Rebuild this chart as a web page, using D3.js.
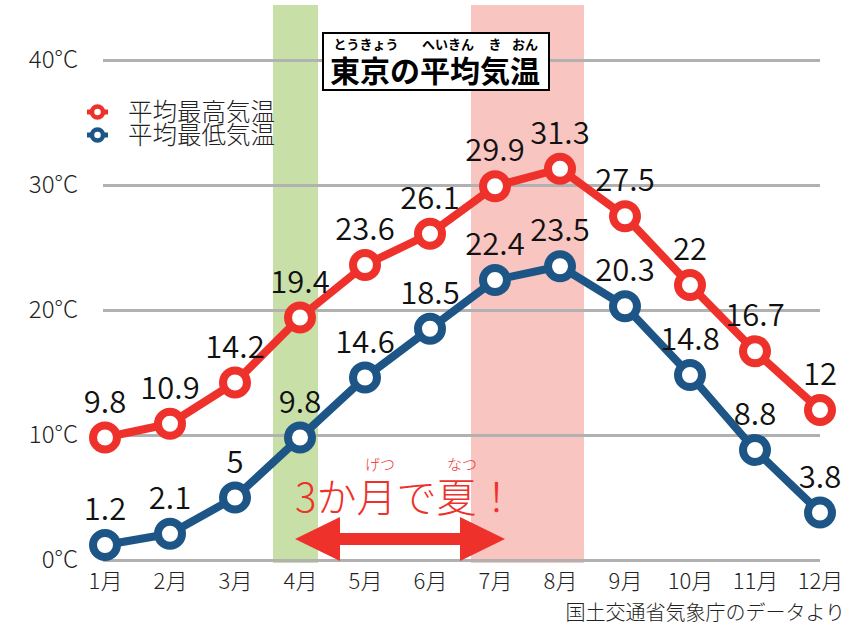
<!DOCTYPE html>
<html>
<head>
<meta charset="utf-8">
<style>
body { margin: 0; background: #fff; }
text { font-family: "Noto Sans CJK JP", "Noto Sans", sans-serif; font-weight: 300; }
.axis path { display: none; }
.yaxis line { stroke: #b1b1b1; stroke-width: 3px; }
.axis text { fill: #222; }
.title, .ruby { font-weight: bold; }
.val { font-weight: 350; }
</style>
</head>
<body>
<script src="https://cdn.jsdelivr.net/npm/d3@7"></script>
<script>
var months = ["1月","2月","3月","4月","5月","6月","7月","8月","9月","10月","11月","12月"];
var highTemp = [9.8, 10.9, 14.2, 19.4, 23.6, 26.1, 29.9, 31.3, 27.5, 22, 16.7, 12];
var lowTemp = [1.2, 2.1, 5, 9.8, 14.6, 18.5, 22.4, 23.5, 20.3, 14.8, 8.8, 3.8];
var yTicks = [0, 10, 20, 30, 40];
var seriesNames = ["平均最高気温", "平均最低気温"];

var width = 865, height = 627;
var red = "#ee312a", blue = "#1d5686";

var svg = d3.select("body").append("svg")
    .attr("width", width)
    .attr("height", height);

var x = d3.scalePoint().domain(months).range([105, 820]);
var y = d3.scaleLinear().domain([0, 40]).range([560, 60]);

// highlight bands (april / july-august)
svg.append("rect")
    .attr("x", x("4月") - 27).attr("y", 5)
    .attr("width", 45).attr("height", 558)
    .attr("fill", "#c8e0a8");
svg.append("rect")
    .attr("x", x("7月") - 24).attr("y", 5)
    .attr("width", x("8月") - x("7月") + 48).attr("height", 558)
    .attr("fill", "#f9c5c0");

// y gridlines + labels
var yAxis = svg.append("g")
    .attr("class", "axis yaxis")
    .attr("transform", "translate(103,0)")
    .call(d3.axisLeft(y).tickValues(yTicks).tickSize(-717).tickPadding(25)
        .tickFormat(function(d) { return d + "°C"; }));
yAxis.selectAll("text").attr("font-size", "24px");
yAxis.selectAll(".tick").filter(function(d) { return d == 0; })
    .select("line").attr("stroke", "#000").attr("stroke-width", 2.5);

// x labels
var xAxis = svg.append("g")
    .attr("class", "axis")
    .attr("transform", "translate(0,560)")
    .call(d3.axisBottom(x).tickSize(0).tickPadding(13));
xAxis.selectAll("text").attr("font-size", "22px");

// lines & points
var line = d3.line()
    .x(function(d, i) { return x(months[i]); })
    .y(function(d) { return y(d); });

function drawSeries(values, color) {
  svg.append("path")
      .datum(values)
      .attr("d", line)
      .attr("fill", "none")
      .attr("stroke", color)
      .attr("stroke-width", 8)
      .attr("stroke-linejoin", "round");

  svg.append("g").selectAll("circle")
      .data(values)
      .enter().append("circle")
      .attr("cx", function(d, i) { return x(months[i]); })
      .attr("cy", function(d) { return y(d); })
      .attr("r", 12)
      .attr("fill", "#fff")
      .attr("stroke", color)
      .attr("stroke-width", 8);

  svg.append("g").selectAll("text")
      .data(values)
      .enter().append("text")
      .attr("class", "val")
      .attr("x", function(d, i) { return x(months[i]); })
      .attr("y", function(d) { return y(d) - 25; })
      .attr("text-anchor", "middle")
      .attr("font-size", "31px")
      .attr("fill", "#111")
      .text(function(d) { return d; });
}
drawSeries(highTemp, red);
drawSeries(lowTemp, blue);

// legend
var legend = svg.append("g");
[red, blue].forEach(function(c, i) {
  var ly = 112 + i * 23;
  legend.append("line").attr("x1", 87).attr("x2", 108).attr("y1", ly).attr("y2", ly)
      .attr("stroke", c).attr("stroke-width", 5);
  legend.append("circle").attr("cx", 97.5).attr("cy", ly).attr("r", 5.5)
      .attr("fill", "#fff").attr("stroke", c).attr("stroke-width", 4.5);
  legend.append("text").attr("x", 128).attr("y", ly + 9)
      .attr("font-size", "24.5px").attr("fill", "#222")
      .text(seriesNames[i]);
});

// title box
svg.append("rect")
    .attr("x", 323).attr("y", 33).attr("width", 226).attr("height", 57)
    .attr("fill", "#fff").attr("stroke", "#000").attr("stroke-width", 2);
svg.append("text")
    .attr("class", "title")
    .attr("x", 330).attr("y", 82)
    .attr("font-size", "30px").attr("fill", "#000")
    .text("東京の平均気温");
var ruby = [["とうきょう", 366], ["へいきん", 448], ["き", 495], ["おん", 525]];
ruby.forEach(function(r) {
  svg.append("text").attr("class", "ruby").attr("x", r[1]).attr("y", 49)
      .attr("text-anchor", "middle").attr("font-size", "13px")
      .text(r[0]);
});

// annotation
svg.append("text")
    .attr("x", 295).attr("y", 512)
    .attr("font-size", "40px").attr("fill", "#ee312a")
    .text("3か月で夏！");
svg.append("text").attr("x", 380).attr("y", 470).attr("text-anchor", "middle")
    .attr("font-size", "15px").attr("fill", "#ee312a").text("げつ");
svg.append("text").attr("x", 462).attr("y", 470).attr("text-anchor", "middle")
    .attr("font-size", "15px").attr("fill", "#ee312a").text("なつ");

// double arrow
var ax0 = x("4月") - 5, ax1 = x("7月") + 10, ay = 539;
svg.append("path")
    .attr("d", "M" + ax0 + "," + ay +
        "L" + (ax0 + 45) + "," + (ay - 22) +
        "L" + (ax0 + 45) + "," + (ay - 6) +
        "L" + (ax1 - 45) + "," + (ay - 6) +
        "L" + (ax1 - 45) + "," + (ay - 22) +
        "L" + ax1 + "," + ay +
        "L" + (ax1 - 45) + "," + (ay + 22) +
        "L" + (ax1 - 45) + "," + (ay + 6) +
        "L" + (ax0 + 45) + "," + (ay + 6) +
        "L" + (ax0 + 45) + "," + (ay + 22) + "Z")
    .attr("fill", "#ee312a");

// source
svg.append("text")
    .attr("x", 845).attr("y", 620)
    .attr("text-anchor", "end").attr("font-size", "20px").attr("fill", "#222")
    .text("国土交通省気象庁のデータより");
</script>
</body>
</html>
